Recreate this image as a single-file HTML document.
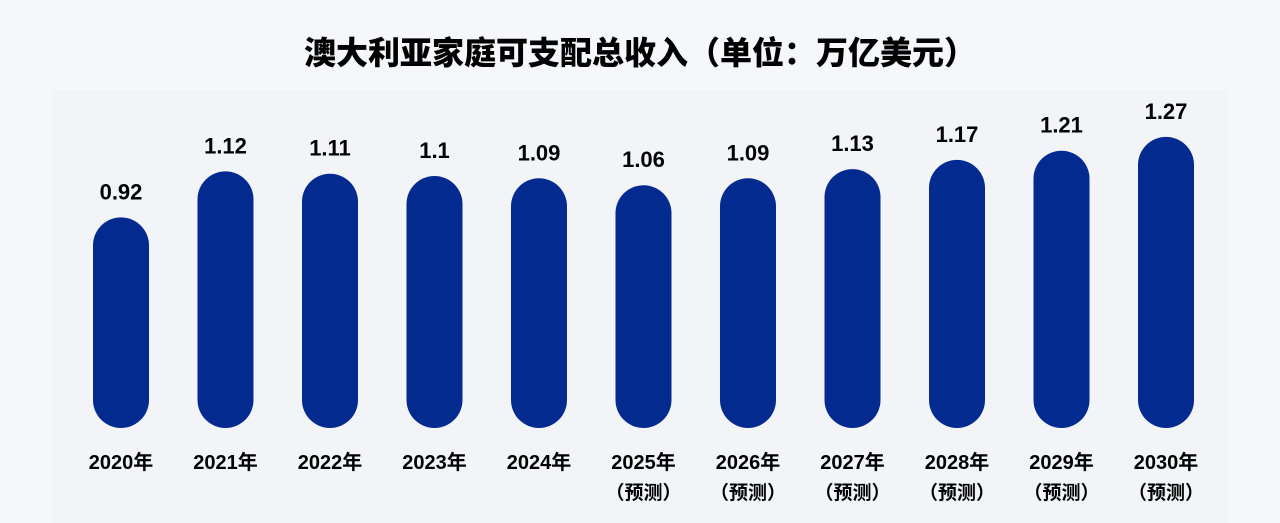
<!DOCTYPE html>
<html><head><meta charset="utf-8"><style>
html,body{margin:0;padding:0;background:#f6f7fb;}
body{width:1280px;height:523px;overflow:hidden;position:relative;font-family:"Liberation Sans","Noto Sans CJK SC",sans-serif;}
#title{position:absolute;top:31px;left:0;width:1280px;text-align:center;font-size:32px;line-height:40px;font-weight:900;color:#000;font-family:"Noto Sans CJK SC","WenQuanYi Zen Hei",sans-serif;}
#panel{position:absolute;left:52px;top:90px;width:1176px;height:433px;background:#f2f4f8;}
svg{position:absolute;left:0;top:0;}
</style></head><body>
<div id="title">澳大利亚家庭可支配总收入（单位：万亿美元）</div>
<div id="panel"></div>
<svg id="chart" width="1280" height="523"></svg>
<script>
const categories=["2020年","2021年","2022年","2023年","2024年","2025年","2026年","2027年","2028年","2029年","2030年"];
const forecast=[false,false,false,false,false,true,true,true,true,true,true];
const values=[0.92,1.12,1.11,1.1,1.09,1.06,1.09,1.13,1.17,1.21,1.27];
const valueLabels=["0.92","1.12","1.11","1.1","1.09","1.06","1.09","1.13","1.17","1.21","1.27"];
const svg=document.getElementById('chart');
const NS="http://www.w3.org/2000/svg";
const x0=121,step=104.5,barW=56,base=429,scale=230;
function xPos(i){return x0+i*step;}
function yPos(v){return base-v*scale;}
for(let i=0;i<values.length;i++){
  const cx=xPos(i),top=yPos(values[i]);
  const r=document.createElementNS(NS,'rect');
  r.setAttribute('x',cx-barW/2);r.setAttribute('y',top);
  r.setAttribute('width',barW);r.setAttribute('height',base-1-top);
  r.setAttribute('rx',barW/2);r.setAttribute('fill','#032a8e');
  
  
  svg.appendChild(r);
  const t=document.createElementNS(NS,'text');
  t.setAttribute('x',cx);t.setAttribute('y',top-18);
  t.setAttribute('text-anchor','middle');t.setAttribute('font-size','22');
  t.setAttribute('font-weight','bold');t.setAttribute('fill','#000');
  t.setAttribute('font-family','Liberation Sans, sans-serif');
  t.textContent=valueLabels[i];
  
  
  svg.appendChild(t);
  const c=document.createElementNS(NS,'text');
  c.setAttribute('x',cx);c.setAttribute('y',469);
  c.setAttribute('text-anchor','middle');c.setAttribute('font-size','20');
  c.setAttribute('font-weight','bold');c.setAttribute('fill','#000');
  c.setAttribute('font-family','Liberation Sans, Noto Sans CJK SC, sans-serif');
  c.textContent=categories[i];
  
  
  svg.appendChild(c);
  if(forecast[i]){
    const f=document.createElementNS(NS,'text');
    f.setAttribute('x',cx);f.setAttribute('y',499);
    f.setAttribute('text-anchor','middle');f.setAttribute('font-size','19');
    f.setAttribute('font-weight','bold');f.setAttribute('fill','#000');
    f.setAttribute('font-family','Noto Sans CJK SC, sans-serif');
    f.textContent="（预测）";
    
    
    svg.appendChild(f);
  }
}
</script>
</body></html>
